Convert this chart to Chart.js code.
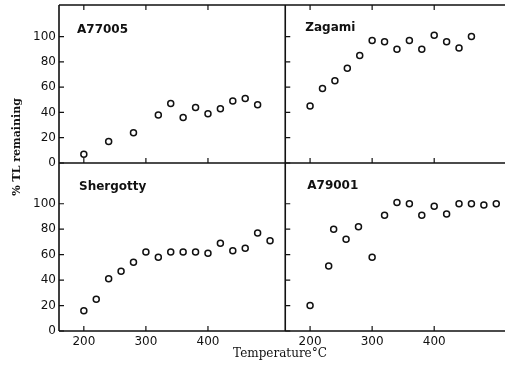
<!DOCTYPE html>
<html>
<head>
<meta charset="utf-8">
<script src="https://cdn.jsdelivr.net/npm/chart.js@4.4.0/dist/chart.umd.min.js"></script>
<style>
html, body { margin: 0; padding: 0; background: #fff; overflow: hidden; width: 505px; height: 366px; }
canvas { display: block; }
</style>
</head>
<body>
<canvas id="tlChart" width="520" height="366"></canvas>
<script>
// tick values
var xTicks = [200, 300, 400];
var yTicks = [0, 20, 40, 60, 80, 100];

// A77005 (top left)
var a77005T = [200, 240, 280, 320, 340, 360, 380, 400, 420, 440, 460, 480];
var a77005V = [7, 17, 24, 38, 47, 36, 44, 39, 43, 49, 51, 46];

// Zagami (top right)
var zagamiT = [200, 220, 240, 260, 280, 300, 320, 340, 360, 380, 400, 420, 440, 460];
var zagamiV = [45, 59, 65, 75, 85, 97, 96, 90, 97, 90, 101, 96, 91, 100];

// Shergotty (bottom left)
var shergottyT = [200, 220, 240, 260, 280, 300, 320, 340, 360, 380, 400, 420, 440, 460, 480, 500];
var shergottyV = [16, 25, 41, 47, 54, 62, 58, 62, 62, 62, 61, 69, 63, 65, 77, 71];

// A79001 (bottom right)
var a79001T = [200, 230, 238, 258, 278, 300, 320, 340, 360, 380, 400, 420, 440, 460, 480, 500];
var a79001V = [20, 51, 80, 72, 82, 58, 91, 101, 100, 91, 98, 92, 100, 100, 99, 100];

var panelNames = ['A77005', 'Zagami', 'Shergotty', 'A79001'];
var xTitle = 'Temperature°C';
var yTitle = '% TL remaining';

function pts(xs, ys) {
    return xs.map(function (x, i) { return {x: x, y: ys[i]}; });
}

function setTicks(list) {
    return function (scale) {
        scale.ticks = list.map(function (v) { return {value: v}; });
    };
}

function noPad(scale) {
    scale.paddingTop = 0;
    scale.paddingBottom = 0;
    scale.paddingLeft = 0;
    scale.paddingRight = 0;
}

var ink = '#111';

// frame, inner tick marks, panel names and axis titles
var framePlugin = {
    id: 'frame',
    beforeDatasetsDraw: function (chart) {
        var ctx = chart.ctx, a = chart.chartArea, s = chart.scales;
        var right = chart.width;
        ctx.save();
        ctx.strokeStyle = ink;
        ctx.lineWidth = 1.6;
        ctx.beginPath();
        ctx.moveTo(a.left, a.top); ctx.lineTo(right, a.top);
        ctx.moveTo(a.left, a.top); ctx.lineTo(a.left, a.bottom);
        ctx.moveTo(a.left, a.bottom); ctx.lineTo(right, a.bottom);
        ctx.moveTo(s.x2.left, a.top); ctx.lineTo(s.x2.left, a.bottom);
        ctx.moveTo(a.left, s.yT.bottom); ctx.lineTo(right, s.yT.bottom);
        ctx.stroke();

        ctx.lineWidth = 1.2;
        ctx.beginPath();
        [s.x1, s.x2].forEach(function (xs) {
            xTicks.forEach(function (v) {
                var px = xs.getPixelForValue(v);
                ctx.moveTo(px, s.yT.bottom); ctx.lineTo(px, s.yT.bottom - 5);
                ctx.moveTo(px, s.yB.bottom); ctx.lineTo(px, s.yB.bottom - 5);
                ctx.moveTo(px, a.top); ctx.lineTo(px, a.top + 5);
            });
        });
        [s.yT, s.yB].forEach(function (ys) {
            yTicks.forEach(function (v) {
                var py = ys.getPixelForValue(v);
                ctx.moveTo(s.x1.left, py); ctx.lineTo(s.x1.left + 5, py);
                ctx.moveTo(s.x2.left, py); ctx.lineTo(s.x2.left + 5, py);
            });
        });
        ctx.stroke();

        ctx.fillStyle = ink;
        ctx.font = 'bold 12px "DejaVu Sans"';
        ctx.textBaseline = 'middle';
        ctx.textAlign = 'left';
        ctx.fillText(panelNames[0], s.x1.left + 18, s.yT.top + 25);
        ctx.fillText(panelNames[1], s.x2.left + 20, s.yT.top + 23);
        ctx.fillText(panelNames[2], s.x1.left + 20, s.yB.top + 24);
        ctx.fillText(panelNames[3], s.x2.left + 22, s.yB.top + 23);

        ctx.textAlign = 'center';
        ctx.font = '12px "DejaVu Serif"';
        ctx.fillText(xTitle, 280, 354);

        ctx.save();
        ctx.translate(17, 147);
        ctx.rotate(-Math.PI / 2);
        ctx.font = 'bold 11px "DejaVu Serif"';
        ctx.fillText(yTitle, 0, 0);
        ctx.restore();
        ctx.restore();
    }
};

var tickFont = {family: '"DejaVu Sans"', size: 12};

function xScale(max, weight, order) {
    return {
        type: 'linear', position: 'bottom', stack: 'x', stackWeight: weight, weight: order,
        min: 160, max: max,
        grid: {display: false, drawTicks: false},
        border: {display: false},
        afterBuildTicks: setTicks(xTicks),
        afterFit: function (scale) { scale.height = 35; noPad(scale); },
        ticks: {color: ink, font: tickFont, padding: 4, maxRotation: 0}
    };
}

function yScale(max, weight, order) {
    return {
        type: 'linear', position: 'left', stack: 'y', stackWeight: weight, weight: order,
        min: 0, max: max,
        grid: {display: false, drawTicks: false},
        border: {display: false},
        afterBuildTicks: setTicks(yTicks),
        afterFit: function (scale) { scale.width = 59; noPad(scale); },
        ticks: {color: ink, font: tickFont, padding: 3}
    };
}

var common = {
    pointRadius: 3,
    pointHoverRadius: 3,
    pointBorderWidth: 1.5,
    pointBackgroundColor: '#fff',
    pointBorderColor: ink,
    showLine: false,
    clip: false
};

const config = {
    type: 'scatter',
    data: {
        datasets: [
            Object.assign({label: panelNames[0], data: pts(a77005T, a77005V), xAxisID: 'x1', yAxisID: 'yT'}, common),
            Object.assign({label: panelNames[1], data: pts(zagamiT, zagamiV), xAxisID: 'x2', yAxisID: 'yT'}, common),
            Object.assign({label: panelNames[2], data: pts(shergottyT, shergottyV), xAxisID: 'x1', yAxisID: 'yB'}, common),
            Object.assign({label: panelNames[3], data: pts(a79001T, a79001V), xAxisID: 'x2', yAxisID: 'yB'}, common)
        ]
    },
    options: {
        responsive: false,
        animation: false,
        events: [],
        layout: {padding: {top: 5, left: 0, right: 0, bottom: 0}},
        plugins: {legend: {display: false}, tooltip: {enabled: false}},
        scales: {
            x1: xScale(524.5, 226, 0),
            x2: xScale(531, 230, 1),
            yB: yScale(132, 168, 0),
            yT: yScale(125, 158, 1)
        }
    },
    plugins: [framePlugin]
};

const tlChart = new Chart('tlChart', config);
</script>
</body>
</html>
